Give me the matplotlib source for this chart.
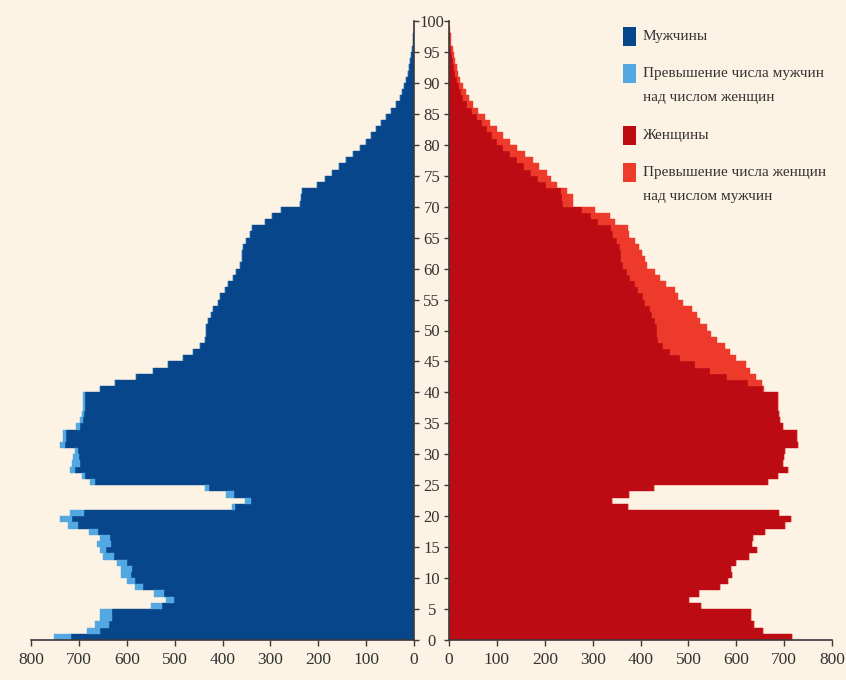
import matplotlib.pyplot as plt
import numpy as np
from matplotlib.patches import Rectangle

# Age structure, thousands of people (one bar per year of age)
ages = np.arange(0, 101)
men = [752, 683, 667, 656, 656, 550, 517, 543, 583, 600,
       611, 611, 621, 649, 656, 663, 656, 678, 722, 740,
       719, 380, 353, 392, 437, 677, 694, 719, 715, 712,
       708, 740, 733, 733, 705, 698, 694, 691, 691, 691,
       656, 625, 580, 545, 514, 482, 461, 447, 437, 434,
       434, 430, 423, 420, 409, 406, 395, 388, 378, 371,
       364, 360, 360, 357, 350, 343, 339, 312, 297, 278,
       238, 236, 234, 203, 186, 172, 157, 141, 127, 113,
       100, 89, 79, 68, 58, 47, 37, 30, 25, 21,
       17, 13, 10, 8, 6, 5, 3, 1.5, 0.8, 0.4,
       0.2]
women = [717, 655, 637, 630, 630, 527, 502, 523, 566, 583,
         592, 590, 600, 627, 644, 632, 634, 660, 701, 715,
         690, 374, 340, 376, 428, 667, 688, 708, 698, 700,
         701, 729, 726, 726, 698, 692, 690, 688, 688, 688,
         658, 653, 642, 628, 621, 600, 587, 576, 560, 548,
         538, 524, 517, 507, 489, 479, 472, 454, 440, 430,
         413, 409, 404, 397, 388, 376, 374, 347, 336, 305,
         260, 260, 246, 225, 214, 204, 187, 176, 159, 141,
         127, 113, 100, 86, 75, 61, 51, 42, 35, 29,
         23, 19, 16, 13, 10, 8, 5, 3.5, 2, 1,
         0.5]
age_ticks = np.arange(0, 101, 5)
x_ticks = np.arange(0, 801, 100)
legend_labels = ['Мужчины',
                 'Превышение числа мужчин\nнад числом женщин',
                 'Женщины',
                 'Превышение числа женщин\nнад числом мужчин']

men = np.array(men, dtype=float)
women = np.array(women, dtype=float)
common = np.minimum(men, women)
men_extra = np.clip(men - women, 0, None)
women_extra = np.clip(women - men, 0, None)

bg = '#fdf3e4'
c_men = '#07468a'
c_men_x = '#54a8e2'
c_wom = '#bd0b13'
c_wom_x = '#ee3a2b'
spine_c = '#3a3a3a'
legend_colors = [c_men, c_men_x, c_wom, c_wom_x]

plt.rcParams['font.family'] = ['Liberation Serif', 'DejaVu Serif']

W, H = 846, 680
fig = plt.figure(figsize=(W / 100, H / 100), dpi=100, facecolor=bg)
axl = fig.add_axes([31 / W, 40 / H, 383 / W, 619 / H])
axr = fig.add_axes([449 / W, 40 / H, 383 / W, 619 / H])

# men on the left
axl.barh(ages, common, height=1, align='edge', color=c_men,
         edgecolor=c_men, linewidth=0.3)
axl.barh(ages, men_extra, left=common, height=1, align='edge',
         color=c_men_x, edgecolor=c_men_x, linewidth=0.3)
# women on the right
axr.barh(ages, common, height=1, align='edge', color=c_wom,
         edgecolor=c_wom, linewidth=0.3)
axr.barh(ages, women_extra, left=common, height=1, align='edge',
         color=c_wom_x, edgecolor=c_wom_x, linewidth=0.3)

axl.set_xlim(800, 0)
axr.set_xlim(0, 800)
for ax in (axl, axr):
    ax.set_ylim(0, 100)
    ax.set_facecolor('none')
    ax.spines['top'].set_visible(False)
    for s in ax.spines.values():
        s.set_color(spine_c)
        s.set_linewidth(1.2)
    ax.set_xticks(x_ticks)
    ax.tick_params(axis='x', direction='out', length=4, width=1,
                   color=spine_c, pad=5, labelsize=12.5, labelcolor='#333333')
    ax.tick_params(axis='y', direction='out', length=3.5, width=1,
                   color=spine_c)

axl.spines['left'].set_visible(False)
axr.spines['right'].set_visible(False)

axl.yaxis.tick_right()
axl.set_yticks(age_ticks, [str(a) for a in age_ticks], ha='center')
axl.tick_params(axis='y', pad=9.3, labelsize=12, labelcolor='#333333')
axr.yaxis.tick_left()
axr.set_yticks(age_ticks)
axr.tick_params(axis='y', labelleft=False)

# legend, top right
y = 36
for lab, col in zip(legend_labels, legend_colors):
    fig.add_artist(Rectangle((623 / W, 1 - (y + 10) / H), 13 / W, 19 / H,
                             transform=fig.transFigure, color=col, lw=0))
    fig.text(643 / W, 1 - (y - 6) / H, lab, ha='left', va='top',
             fontsize=11, linespacing=2.1, color='#333333')
    y += 37 + 25 * lab.count('\n')

fig.savefig('out.png', dpi=100, facecolor=bg)
